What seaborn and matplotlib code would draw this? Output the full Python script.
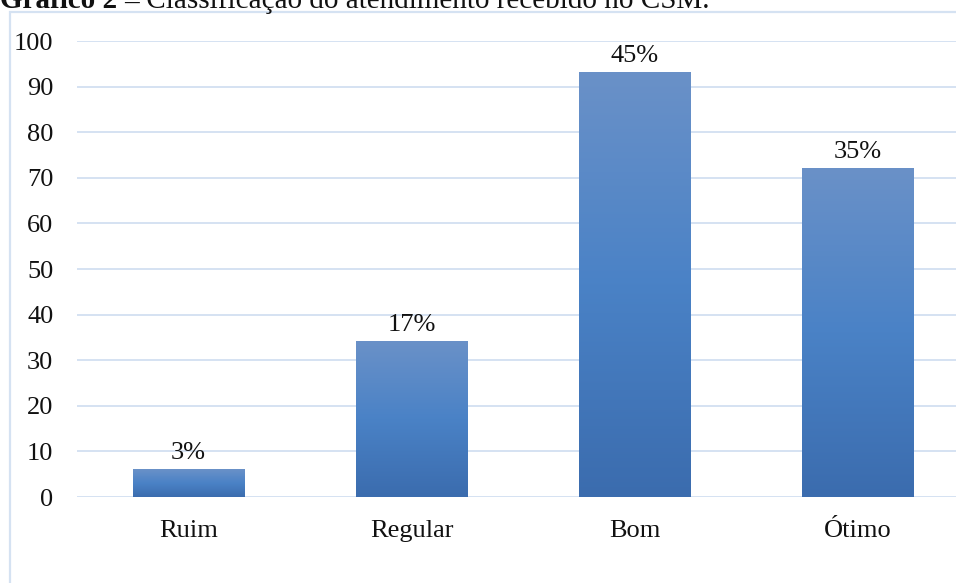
import numpy as np
import pandas as pd
import matplotlib
matplotlib.use("Agg")
import matplotlib.pyplot as plt
import seaborn as sns
from matplotlib.patches import Rectangle
from matplotlib.colors import LinearSegmentedColormap

categorias = ["Ruim", "Regular", "Bom", "Ótimo"]
respostas = [6, 34, 93, 72]
rotulos = ["3%", "17%", "45%", "35%"]
yticks = [0, 10, 20, 30, 40, 50, 60, 70, 80, 90, 100]

sns.set_theme(style="white")
plt.rcParams["font.family"] = ["Liberation Serif", "DejaVu Serif"]

W, H = 956, 583
fig = plt.figure(figsize=(W / 100, H / 100), dpi=100)
fig.patch.set_facecolor("white")

# moldura do gráfico
fig.patches.append(Rectangle((10 / W, -0.05), 1.2, 1 - 12 / H + 0.05,
                             transform=fig.transFigure, fill=False,
                             edgecolor="#d5e2f2", linewidth=1.6))

ax = fig.add_axes([77 / W, (H - 497) / H, (969.5 - 77) / W, (497 - 41) / H])
ax.set_facecolor("none")

df = pd.DataFrame({"categoria": categorias, "respostas": respostas})
sns.barplot(data=df, x="categoria", y="respostas", ax=ax, width=0.5,
            color="#4a80c4", saturation=1, zorder=2)

# preenchimento em degradê de cada barra
cmap = LinearSegmentedColormap.from_list(
    "grad", ["#3b6cae", "#4a82c6", "#6a91c8"])
grad = np.linspace(0, 1, 256).reshape(-1, 1)
for p in ax.patches:
    x0, w, h = p.get_x(), p.get_width(), p.get_height()
    ax.imshow(grad, cmap=cmap, aspect="auto", origin="lower",
              extent=(x0, x0 + w, 0, h), zorder=3, interpolation="bicubic")
    p.set_alpha(0)

for p, lab in zip(ax.patches, rotulos):
    ax.annotate(lab, (p.get_x() + p.get_width() / 2, p.get_height()),
                xytext=(0, 4), textcoords="offset points",
                ha="center", va="bottom", fontsize=19, color="#111111",
                zorder=4)

ax.set_xlim(-0.5, 3.5)
ax.set_ylim(0, 100)
ax.set_yticks(yticks)
ax.yaxis.grid(True, color="#d5e2f2", linewidth=1.4, zorder=0)
ax.set_axisbelow(True)
for s in ax.spines.values():
    s.set_visible(False)
ax.tick_params(axis="y", length=0, pad=17, labelsize=19, labelcolor="#111111")
ax.tick_params(axis="x", length=0, pad=16.5, labelsize=19, labelcolor="#111111")
ax.set_xlabel("")
ax.set_ylabel("")

# título (parcialmente acima da área visível)
renderer = fig.canvas.get_renderer()
base = 1 - 7.5 / H
t1 = fig.text(0.0, base, "Gráfico 2 ", fontsize=21, fontweight="bold",
              va="baseline", ha="left", color="#111111")
x1 = t1.get_window_extent(renderer=renderer).x1
t2 = fig.text(x1 / W, 1 - 11 / H, "–", fontsize=21,
              va="baseline", ha="left", color="#111111")
x2 = t2.get_window_extent(renderer=renderer).x1
fig.text(x2 / W, base, " Classificação do atendimento recebido no CSM.",
         fontsize=21, va="baseline", ha="left", color="#111111")

fig.savefig("out.png", dpi=100, facecolor="white")
